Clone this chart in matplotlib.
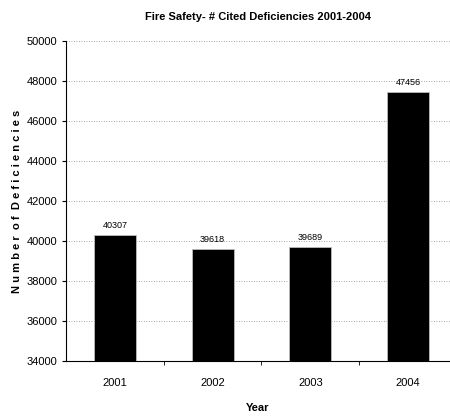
import matplotlib.pyplot as plt
from matplotlib import font_manager

years = ['2001', '2002', '2003', '2004']
deficiencies = [40307, 39618, 39689, 47456]

# Narrow font if available, otherwise plain sans
names = {f.name for f in font_manager.fontManager.ttflist}
family = 'Liberation Sans Narrow' if 'Liberation Sans Narrow' in names else 'Liberation Sans'
plt.rcParams['font.family'] = [family, 'DejaVu Sans']

fig = plt.figure(figsize=(4.5, 4.18), dpi=100)
ax = fig.add_axes([0.147, 0.136, 0.853, 0.766])

x = range(len(years))
ax.bar(x, deficiencies, width=0.43, color='black', edgecolor='#bbbbbb', linewidth=0.6, zorder=3)

for xi, v in zip(x, deficiencies):
    ax.text(xi, v + 250, str(v), ha='center', va='bottom', fontsize=6.5)

ax.set_ylim(34000, 50000)
ax.set_yticks(range(34000, 50001, 2000))
ax.set_xlim(-0.5, 3.43)
ax.set_xticks(list(x))
ax.set_xticklabels(years, fontsize=8)
ax.set_xticks([0.5, 1.5, 2.5], minor=True)
ax.tick_params(axis='x', which='major', length=0, pad=12)
ax.tick_params(axis='x', which='minor', length=3, direction='out')
ax.tick_params(axis='y', labelsize=8, length=3, direction='out')

ax.grid(axis='y', linestyle=(0, (1, 2)), color='#888888', linewidth=0.6, zorder=0)
ax.spines['top'].set_visible(False)
ax.spines['right'].set_visible(False)

ax.set_title('Fire Safety- # Cited Deficiencies 2001-2004', fontsize=8, fontweight='bold', pad=15)
ax.set_xlabel('Year', fontsize=8, fontweight='bold', labelpad=11)
ax.set_ylabel('N u m b e r  o f  D e f i c i e n c i e s', fontsize=8, fontweight='bold', labelpad=3)

fig.savefig('out.png', dpi=100)
